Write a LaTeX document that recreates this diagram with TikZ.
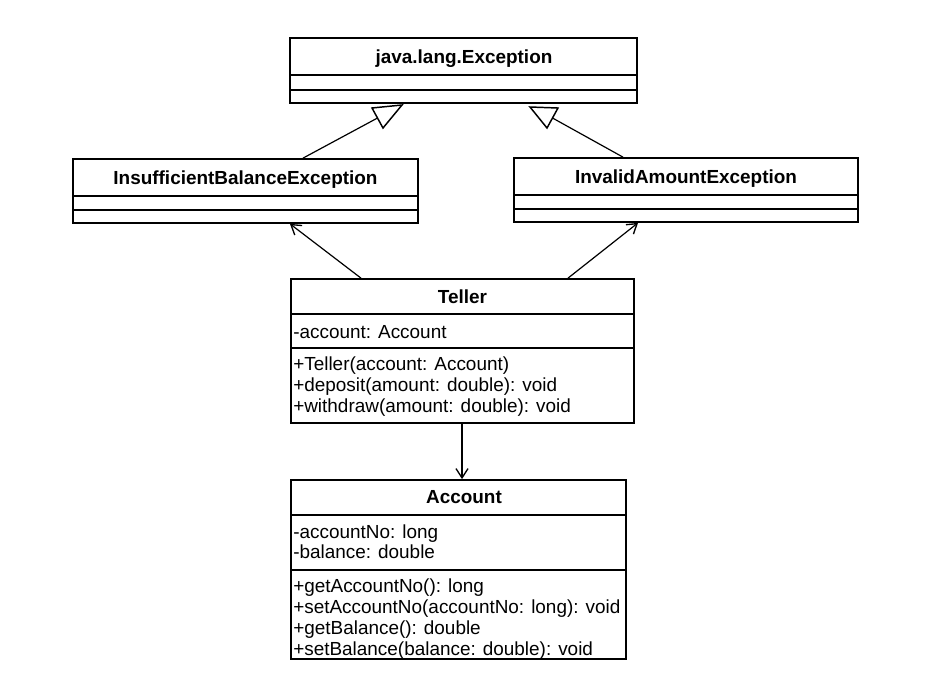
\documentclass[tikz,border=0pt]{standalone}
\usepackage{fontspec}
\setmainfont{Liberation Sans}
\usetikzlibrary{fit,arrows.meta}
\tikzset{
  cls/.style={draw, line width=1.3pt, inner sep=0pt},
  sep/.style={line width=1.1pt},
  title/.style={font=\fontsize{14.2pt}{15.75pt}\selectfont\bfseries, inner sep=0pt, anchor=base},
  member/.style={font=\fontsize{14.2pt}{15.75pt}\selectfont, inner sep=0pt, anchor=base west},
  gen/.style={line width=0.9pt},
  tri/.style={line width=1.1pt, fill=white, line join=miter},
  dep/.style={line width=0.9pt, -{Straight Barb[length=7pt,width=9pt,line width=1pt]}},
}
\begin{document}
\begin{tikzpicture}[x=0.75pt,y=-0.75pt]
\path[use as bounding box, fill=white] (0,0) rectangle (947,687);

% java.lang.Exception
\node[cls, fit={(290,38) (637,103)}] (exc) {};
\draw[sep] (290,75) -- (637,75);
\draw[sep] (290,90) -- (637,90);
\node[title] (excT) at (464,63) {java.lang.Exception};

% InsufficientBalanceException
\node[cls, fit={(73,159) (418,223)}] (ins) {};
\draw[sep] (73,196) -- (418,196);
\draw[sep] (73,210) -- (418,210);
\node[title] (insT) at (245.5,184.5) {InsufficientBalanceException};

% InvalidAmountException
\node[cls, fit={(514,158) (858,222)}] (inv) {};
\draw[sep] (514,195) -- (858,195);
\draw[sep] (514,209) -- (858,209);
\node[title] (invT) at (686,183) {InvalidAmountException};

% Teller
\node[cls, fit={(291,279) (634,423)}] (tel) {};
\draw[sep] (291,314) -- (634,314);
\draw[sep] (291,348) -- (634,348);
\node[title] (telT) at (462.5,303.5) {Teller};
\node[member] (telA1) at (293,338) {-account: Account};
\node[member] (telM1) at (293,370) {+Teller(account: Account)};
\node[member] (telM2) at (293,391) {+deposit(amount: double): void};
\node[member] (telM3) at (293,412) {+withdraw(amount: double): void};

% Account
\node[cls, fit={(291,480) (626,659)}] (acc) {};
\draw[sep] (291,515) -- (626,515);
\draw[sep] (291,570) -- (626,570);
\node[title] (accT) at (464,503.5) {Account};
\node[member] (accA1) at (293,538) {-accountNo: long};
\node[member] (accA2) at (293,558) {-balance: double};
\node[member] (accM1) at (293,592) {+getAccountNo(): long};
\node[member] (accM2) at (293,613) {+setAccountNo(accountNo: long): void};
\node[member] (accM3) at (293,634) {+getBalance(): double};
\node[member] (accM4) at (293,655) {+setBalance(balance: double): void};

% generalization triangles
\coordinate (g1) at (377.5,118);
\coordinate (g2) at (552.5,118);
\draw[gen] (ins.north -| 303,0) -- (g1);
\draw[gen] (inv.north -| 623,0) -- (g2);
\draw[tri] (372,108) -- (402,105) -- (383,128) -- cycle;
\draw[tri] (530,107) -- (558,108) -- (547,128) -- cycle;

% dependencies
\draw[dep] (tel.north -| 361,0) -- (ins.south -| 290,0);
\draw[dep] (tel.north -| 568,0) -- (inv.south -| 638,0);
\draw[dep] (tel.south -| 462,0) -- (acc.north -| 462,0);
\end{tikzpicture}
\end{document}
